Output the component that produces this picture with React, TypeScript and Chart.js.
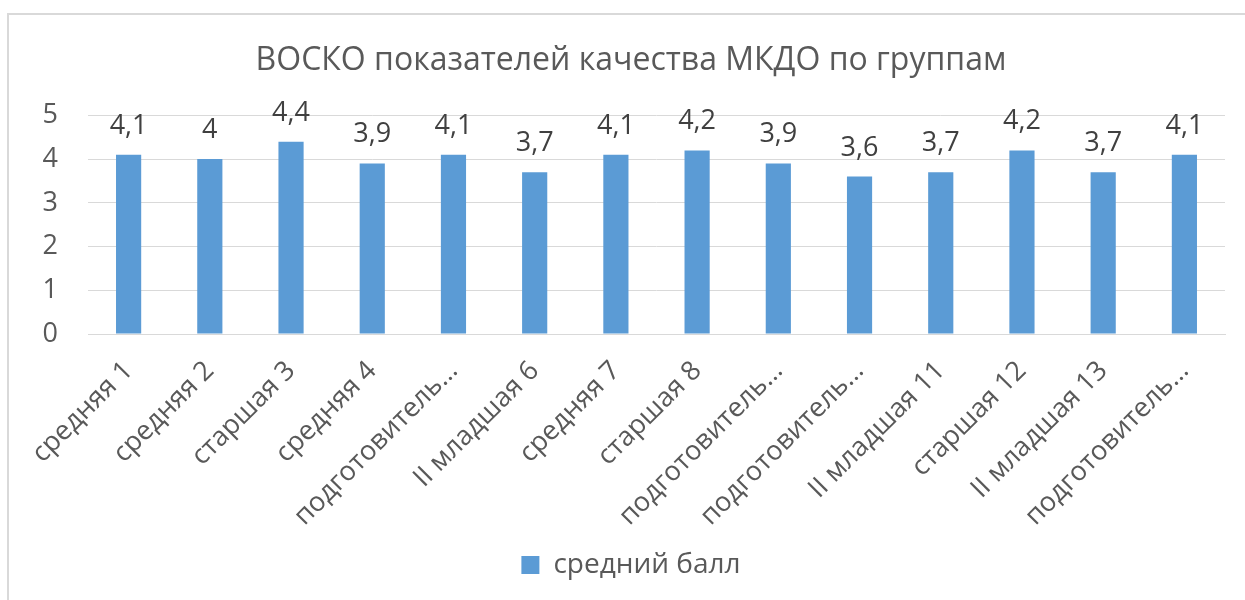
import React, { useEffect, useRef } from "react";
import { Chart, registerables } from "chart.js";

Chart.register(...registerables);

const chartTitle = "ВОСКО показателей качества МКДО по группам";
const seriesName = "средний балл";
const categories = [
  "средняя 1",
  "средняя 2",
  "старшая 3",
  "средняя 4",
  "подготовитель…",
  "II младшая 6",
  "средняя 7",
  "старшая 8",
  "подготовитель…",
  "подготовитель…",
  "II младшая 11",
  "старшая 12",
  "II младшая 13",
  "подготовитель…",
];
const values = [4.1, 4, 4.4, 3.9, 4.1, 3.7, 4.1, 4.2, 3.9, 3.6, 3.7, 4.2, 3.7, 4.1];
const yTicks = [0, 1, 2, 3, 4, 5];

const FONT = "'Open Sans', 'Noto Sans', sans-serif";
const TEXT = "#595959";

const dataLabelPlugin = {
  id: "dataLabels",
  afterDatasetsDraw(chart: any) {
    const ctx = chart.ctx;
    const meta = chart.getDatasetMeta(0);
    ctx.save();
    ctx.font = `27px ${FONT}`;
    ctx.fillStyle = "#404040";
    ctx.textAlign = "center";
    ctx.textBaseline = "alphabetic";
    meta.data.forEach((bar: any, i: number) => {
      const label = String(values[i]).replace(".", ",");
      ctx.fillText(label, bar.x, bar.y - 21);
    });
    ctx.restore();
  },
};

export default function App() {
  const ref = useRef<HTMLCanvasElement | null>(null);

  useEffect(() => {
    if (!ref.current) return;
    const chart = new Chart(ref.current, {
      type: "bar",
      data: {
        labels: categories,
        datasets: [
          {
            label: seriesName,
            data: values,
            backgroundColor: "#5b9bd5",
            borderWidth: 0,
            barPercentage: 0.31,
            categoryPercentage: 1,
          },
        ],
      },
      options: {
        animation: false,
        responsive: false,
        maintainAspectRatio: false,
        layout: { padding: { left: 37, right: 20, top: 0, bottom: 11 } },
        plugins: {
          title: {
            display: true,
            text: chartTitle,
            color: TEXT,
            font: { family: FONT, size: 32, weight: "normal" },
            padding: { top: 42, bottom: 35 },
          },
          legend: {
            display: true,
            position: "bottom",
            labels: {
              color: TEXT,
              font: { family: FONT, size: 28 },
              boxWidth: 18,
              boxHeight: 18,
              padding: 10,
            },
          },
          tooltip: { enabled: false },
        },
        scales: {
          x: {
            grid: { display: false, drawTicks: false },
            border: { display: true, color: "#d9d9d9", width: 1 },
            ticks: {
              color: TEXT,
              font: { family: FONT, size: 27 },
              minRotation: 45,
              maxRotation: 45,
              autoSkip: false,
              padding: 21,
            },
            afterFit(scale: any) {
              scale.height = 207;
            },
          },
          y: {
            min: 0,
            max: 5,
            afterBuildTicks(scale: any) {
              scale.ticks = yTicks.map((v) => ({ value: v }));
            },
            grid: { color: "#d9d9d9", drawTicks: false },
            border: { display: false },
            ticks: {
              color: TEXT,
              font: { family: FONT, size: 27 },
              padding: 30,
            },
            afterFit(scale: any) {
              scale.width = 51;
            },
          },
        },
      },
      plugins: [dataLabelPlugin],
    });
    return () => chart.destroy();
  }, []);

  return (
    <div style={{ position: "fixed", left: 0, top: 0, width: 1245, height: 600, background: "#fff" }}>
      <div
        style={{
          position: "absolute",
          left: 7,
          top: 13,
          width: 1238,
          height: 600,
          borderLeft: "2px solid #d9d9d9",
          borderTop: "2px solid #d9d9d9",
          boxSizing: "border-box",
        }}
      />
      <canvas ref={ref} width={1245} height={600} style={{ position: "absolute", left: 0, top: 0 }} />
    </div>
  );
}
